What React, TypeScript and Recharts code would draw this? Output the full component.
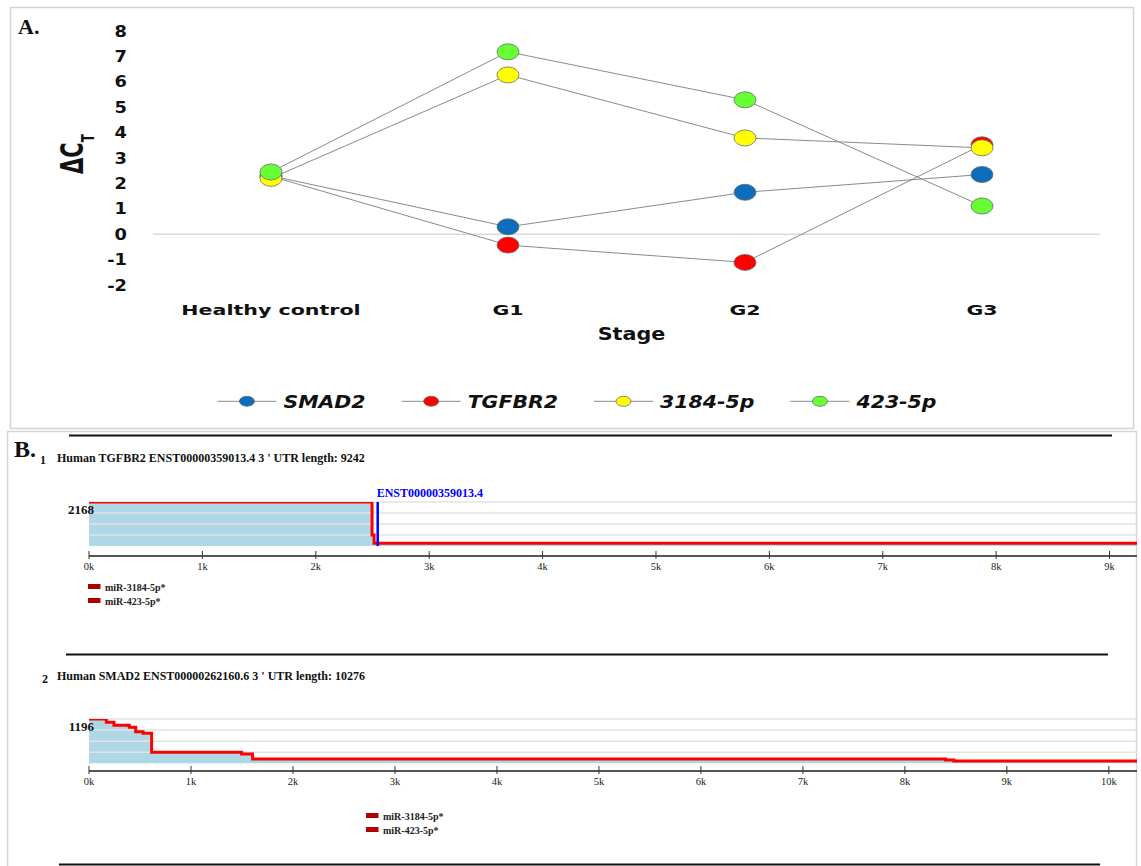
import React from 'react';
import { LineChart, Line, XAxis, YAxis, ReferenceLine, Legend, ComposedChart, Area } from 'recharts';

// ---------- Panel A data ----------
const stages = ['Healthy control', 'G1', 'G2', 'G3'];
const smad2 = [2.3, 0.29, 1.65, 2.35];
const tgfbr2 = [2.28, -0.43, -1.11, 3.52];
const mir3184 = [2.2, 6.27, 3.79, 3.4];
const mir423 = [2.45, 7.18, 5.29, 1.11];
const deltaCtTicks = [-2, -1, 0, 1, 2, 3, 4, 5, 6, 7, 8];
const seriesNames = ['SMAD2', 'TGFBR2', '3184-5p', '423-5p'];
const seriesColors = ['#0a6ebd', '#ff0000', '#ffff00', '#66ff33'];

// ---------- Panel B data ----------
const tgfbr2UtrPos = [0, 2496, 2514, 9242];
const tgfbr2UtrSites = [2168, 542, 133, 133];
const tgfbr2UtrTicks = [0, 1000, 2000, 3000, 4000, 5000, 6000, 7000, 8000, 9000];
const tgfbr2GridLevels = [542, 1084, 1626, 2168];
const tgfbr2Transcript = 'ENST00000359013.4';
const tgfbr2TranscriptEnd = 2546;

const smad2UtrPos = [0, 170, 245, 395, 458, 530, 614, 1496, 1604, 8400, 8480, 10276];
const smad2UtrSites = [1196, 1107, 1026, 972, 853, 810, 297, 251, 116, 89, 62, 62];
const smad2UtrTicks = [0, 1000, 2000, 3000, 4000, 5000, 6000, 7000, 8000, 9000, 10000];
const smad2GridLevels = [299, 598, 897, 1196];

const mirLabels = ['miR-3184-5p*', 'miR-423-5p*'];

const panelAData = stages.map((s, i) => ({
  stage: s,
  SMAD2: smad2[i],
  TGFBR2: tgfbr2[i],
  '3184-5p': mir3184[i],
  '423-5p': mir423[i],
}));

const SANS = "'DejaVu Sans', Verdana, sans-serif";
const SERIF = "'Liberation Serif', 'Times New Roman', serif";

const measure = (text: string, font: string) => {
  try {
    const ctx = document.createElement('canvas').getContext('2d');
    if (!ctx) return text.length * 10;
    ctx.font = font;
    return ctx.measureText(text).width;
  } catch (e) {
    return text.length * 10;
  }
};

const makeDot = (color: string) => (props: any) => {
  const { cx, cy, index } = props;
  if (cx == null || cy == null) return <g key={`${color}-${index}`} />;
  return (
    <ellipse key={`${color}-${index}`} cx={cx} cy={cy} rx={11} ry={8} fill={color} stroke="#6b6b6b" strokeWidth={0.8} />
  );
};

const DeltaTick = (props: any) => {
  const { x, y, payload } = props;
  return (
    <text transform={`translate(${x},${y}) scale(1.15,1)`} textAnchor="end" dy="0.36em" fontFamily={SANS} fontWeight="bold" fontSize={15.5} fill="#111">
      {payload.value}
    </text>
  );
};

const StageTick = (props: any) => {
  const { x, y, payload } = props;
  return (
    <text transform={`translate(${x},${y + 30}) scale(1.47,1)`} textAnchor="middle" fontFamily={SANS} fontWeight="bold" fontSize={14} fill="#111">
      {payload.value}
    </text>
  );
};

const DeltaLabel = (props: any) => {
  const vb = props.viewBox || { x: 50, y: 31, width: 103, height: 254 };
  const cx = vb.x + 33;
  const cy = vb.y + vb.height / 2 - 4;
  return (
    <text transform={`translate(${cx},${cy}) rotate(-90) scale(1,1.5)`} textAnchor="middle" fontFamily={SANS} fontWeight="bold" fontSize={21} fill="#111">
      ΔC<tspan fontSize={12} dy={7}>T</tspan>
    </text>
  );
};

const StageLabel = (props: any) => {
  const vb = props.viewBox || { x: 153, y: 285, width: 947, height: 30 };
  const cx = vb.x + vb.width / 2 + 5;
  return (
    <text transform={`translate(${cx},${vb.y + 55}) scale(1.15,1)`} textAnchor="middle" fontFamily={SANS} fontWeight="bold" fontSize={18} fill="#111">
      Stage
    </text>
  );
};

const TopLegend = () => {
  const fontSize = 17.5;
  const font = `italic bold ${fontSize}px 'DejaVu Sans'`;
  const sx = 1.17;
  const icon = 59;
  const gapText = 7;
  const gap = 36;
  const widths = seriesNames.map((n) => icon + gapText + measure(n, font) * sx);
  const total = widths.reduce((a, b) => a + b, 0) + gap * (seriesNames.length - 1);
  let x = 577 - total / 2;
  return (
    <svg width={1141} height={30} style={{ display: 'block', overflow: 'visible' }}>
      {seriesNames.map((n, i) => {
        const x0 = x;
        x += widths[i] + gap;
        return (
          <g key={n}>
            <line x1={x0} x2={x0 + icon} y1={13.3} y2={13.3} stroke="#8a8a8a" strokeWidth={1} />
            <ellipse cx={x0 + icon / 2} cy={13.3} rx={7.5} ry={5} fill={seriesColors[i]} stroke="#6b6b6b" strokeWidth={0.8} />
            <text transform={`translate(${x0 + icon + gapText},20) scale(${sx},1)`} fontFamily={SANS} fontWeight="bold" fontStyle="italic" fontSize={fontSize} fill="#111">
              {n}
            </text>
          </g>
        );
      })}
    </svg>
  );
};

const KTick = (props: any) => {
  const { x, y, payload } = props;
  return (
    <g>
      <line x1={x} x2={x} y1={y - 5} y2={y + 3} stroke="#333" strokeWidth={1} />
      <text x={x} y={y + 14} textAnchor="middle" fontFamily={SERIF} fontSize={10.5} fill="#222">
        {`${payload.value / 1000}k`}
      </text>
    </g>
  );
};

const MaxTick = (props: any) => {
  const { x, y, payload } = props;
  return (
    <text x={x + 5} y={y + 11.5} textAnchor="end" fontFamily={SERIF} fontWeight="bold" fontSize={13} fill="#111">
      {payload.value}
    </text>
  );
};

const MirLegend = () => (
  <svg width={220} height={30} style={{ display: 'block', overflow: 'visible' }}>
    {mirLabels.map((m, i) => (
      <g key={m}>
        <rect x={0} y={i * 14} width={12.5} height={5} fill="#b00000" />
        <text x={17} y={i * 14 + 6.5} fontFamily={SERIF} fontWeight="bold" fontSize={10} fill="#222">
          {m}
        </text>
      </g>
    ))}
  </svg>
);

type UtrProps = {
  height: number;
  marginTop: number;
  marginBottom: number;
  positions: number[];
  sites: number[];
  ticks: number[];
  grid: number[];
  domainMin: number;
  xMax: number;
  legendLeft: number;
  legendTop: number;
  transcript?: string;
  transcriptEnd?: number;
};

const UtrChart = (p: UtrProps) => {
  const data = p.positions.map((pos, i) => ({ pos, sites: p.sites[i] }));
  const maxVal = Math.max(...p.sites);
  return (
    <ComposedChart width={1141} height={p.height} data={data} margin={{ top: p.marginTop, right: 4, bottom: p.marginBottom, left: 49 }}>
      <XAxis
        dataKey="pos"
        type="number"
        domain={[0, p.xMax]}
        ticks={p.ticks}
        interval={0}
        tickSize={0}
        tickMargin={0}
        tickLine={false}
        axisLine={{ stroke: '#555', strokeWidth: 2 }}
        height={30}
        tick={<KTick />}
        allowDataOverflow
      />
      <YAxis
        type="number"
        domain={[p.domainMin, maxVal]}
        ticks={[maxVal]}
        width={40}
        axisLine={false}
        tickLine={false}
        tickSize={0}
        tickMargin={0}
        tick={<MaxTick />}
        allowDataOverflow
      />
      <Area type="stepAfter" dataKey="sites" stroke="none" fill="#aed8e6" fillOpacity={1} baseValue={0} isAnimationActive={false} activeDot={false} />
      {p.grid.map((g) => (
        <ReferenceLine key={g} y={g} stroke="#e3e3e3" strokeWidth={1.5} />
      ))}
      <Line type="stepAfter" dataKey="sites" stroke="#ff0000" strokeWidth={3} dot={false} activeDot={false} isAnimationActive={false} />
      {p.transcript && p.transcriptEnd != null && (
        <ReferenceLine
          segment={[
            { x: p.transcriptEnd, y: 0 },
            { x: p.transcriptEnd, y: maxVal },
          ]}
          stroke="#0000ff"
          strokeWidth={2.5}
          label={{
            content: (lp: any) => {
              const vb = lp.viewBox || { x: 0, y: 0 };
              return (
                <text x={vb.x - 1} y={vb.y - 5.5} fontFamily={SERIF} fontWeight="bold" fontSize={12} fill="#0000ff">
                  {p.transcript}
                </text>
              );
            },
          }}
        />
      )}
      <Legend
        layout="horizontal"
        verticalAlign="middle"
        align="center"
        content={() => <MirLegend />}
        wrapperStyle={{ position: 'absolute', left: p.legendLeft, top: p.legendTop, width: 220, height: 30, margin: 0, padding: 0, overflow: 'visible' }}
      />
    </ComposedChart>
  );
};

export default function App() {
  return (
    <div style={{ position: 'absolute', left: 0, top: 0, width: 1141, height: 866, background: '#fff', overflow: 'hidden' }}>
      <svg width={1141} height={866} style={{ position: 'absolute', left: 0, top: 0 }}>
        <rect x={10.5} y={7.5} width={1123} height={421} fill="none" stroke="#d4d4d4" strokeWidth={1.5} />
        <rect x={7.5} y={431.5} width={1129} height={450} fill="none" stroke="#d4d4d4" strokeWidth={1.5} />
        <text x={18} y={34} fontFamily={SERIF} fontWeight="bold" fontSize={22} fill="#111">A.</text>
        <text x={14} y={457} fontFamily={SERIF} fontWeight="bold" fontSize={24} fill="#111">B.</text>
        <line x1={69} x2={1112} y1={435.5} y2={435.5} stroke="#111" strokeWidth={2} />
        <text x={40} y={463.5} fontFamily={SERIF} fontWeight="bold" fontSize={12} fill="#111">1</text>
        <text x={57} y={462} fontFamily={SERIF} fontWeight="bold" fontSize={12} fill="#111">
          Human TGFBR2 ENST00000359013.4 3 ' UTR length: 9242
        </text>
        <line x1={66} x2={1108} y1={654.5} y2={654.5} stroke="#111" strokeWidth={2} />
        <text x={42} y={683} fontFamily={SERIF} fontWeight="bold" fontSize={12} fill="#111">2</text>
        <text x={57} y={680} fontFamily={SERIF} fontWeight="bold" fontSize={12} fill="#111">
          Human SMAD2 ENST00000262160.6 3 ' UTR length: 10276
        </text>
        <line x1={59} x2={1100} y1={864.5} y2={864.5} stroke="#111" strokeWidth={2} />
      </svg>

      <div style={{ position: 'absolute', left: 0, top: 0 }}>
        <LineChart width={1141} height={430} data={panelAData} margin={{ top: 31, right: 41, bottom: 115, left: 50 }}>
          <XAxis
            dataKey="stage"
            type="category"
            padding={{ left: 118, right: 118 }}
            axisLine={false}
            tickLine={false}
            tickSize={0}
            tickMargin={0}
            height={30}
            interval={0}
            tick={<StageTick />}
            label={{ content: (lp: any) => <StageLabel {...lp} /> }}
          />
          <YAxis
            type="number"
            domain={[-2, 8]}
            ticks={deltaCtTicks}
            interval={0}
            width={103}
            axisLine={false}
            tickLine={false}
            tickSize={0}
            tickMargin={26}
            tick={<DeltaTick />}
            label={{ content: (lp: any) => <DeltaLabel {...lp} /> }}
          />
          <ReferenceLine y={0} stroke="#d9d9d9" strokeWidth={1.5} />
          {seriesNames.map((n, i) => (
            <Line
              key={n}
              dataKey={n}
              name={n}
              type="linear"
              stroke="#8a8a8a"
              strokeWidth={1}
              dot={makeDot(seriesColors[i])}
              activeDot={false}
              isAnimationActive={false}
            />
          ))}
          <Legend
            layout="horizontal"
            verticalAlign="middle"
            align="center"
            content={() => <TopLegend />}
            wrapperStyle={{ position: 'absolute', left: 0, top: 388, width: 1141, height: 30, margin: 0, padding: 0 }}
          />
        </LineChart>
      </div>

      <div style={{ position: 'absolute', left: 0, top: 440 }}>
        <UtrChart
          height={180}
          marginTop={62}
          marginBottom={34}
          positions={tgfbr2UtrPos}
          sites={tgfbr2UtrSites}
          ticks={tgfbr2UtrTicks}
          grid={tgfbr2GridLevels}
          domainMin={-493}
          xMax={9242}
          legendLeft={88}
          legendTop={144}
          transcript={tgfbr2Transcript}
          transcriptEnd={tgfbr2TranscriptEnd}
        />
      </div>

      <div style={{ position: 'absolute', left: 0, top: 660 }}>
        <UtrChart
          height={200}
          marginTop={59}
          marginBottom={59}
          positions={smad2UtrPos}
          sites={smad2UtrSites}
          ticks={smad2UtrTicks}
          grid={smad2GridLevels}
          domainMin={-208}
          xMax={10276}
          legendLeft={366}
          legendTop={153}
        />
      </div>
    </div>
  );
}
